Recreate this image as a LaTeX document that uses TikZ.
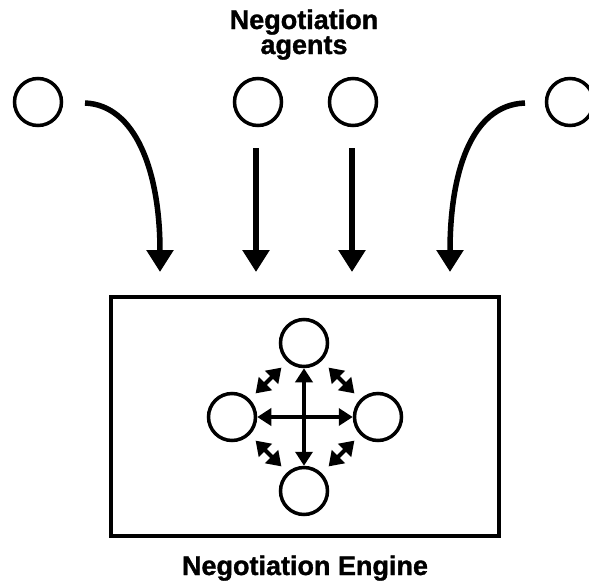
\documentclass[tikz,border=0pt]{standalone}
\usepackage{fontspec}
\setmainfont{Liberation Sans}
\newfontfamily\heavyfont[FakeBold=1.2]{Liberation Sans Bold}
\usetikzlibrary{arrows.meta}
\begin{document}
\begin{tikzpicture}[x=1pt,y=-1pt,
  agent/.style={circle,draw,line width=3.5pt,minimum size=47pt,inner sep=0pt},
  feed/.style={line width=5.5pt,-{Triangle[width=26pt,length=22pt]}},
  link/.style={line width=4pt,{Triangle[width=17pt,length=14pt]}-{Triangle[width=17pt,length=14pt]}},
  side/.style={line width=4pt,{Triangle[width=18pt,length=14pt]}-{Triangle[width=18pt,length=14pt]},shorten <=-2pt,shorten >=-2pt},
  label/.style={font=\heavyfont\fontsize{27}{27}\selectfont,align=center,inner sep=0pt}]
\useasboundingbox (0,0) rectangle (589,584);
\clip (0,0) rectangle (589,584);

% titles
\node[label,anchor=base] (tA) at (304,29) {Negotiation};
\node[label,anchor=base] (tB) at (304,54) {agents};
\node[label,anchor=base] (tE) at (305,575) {Negotiation Engine};

% negotiation agents
\node[agent] (a1) at (38,102) {};
\node[agent] (a2) at (258,102) {};
\node[agent] (a3) at (353,102) {};
\node[agent] (a4) at (570,102) {};

% engine
\node[draw,line width=4pt,minimum width=388pt,minimum height=239pt,inner sep=0pt] (eng) at (305,416.5) {};

% arrows into the engine
\coordinate (s1) at (85,103);   \coordinate (e1) at (160,272);
\coordinate (s2) at (256,148);  \coordinate (e2) at (256,272);
\coordinate (s3) at (352,148);  \coordinate (e3) at (352,272);
\coordinate (s4) at (525,103);  \coordinate (e4) at (450,272);
\draw[feed] (s1) .. controls (135,105) and (160,170) .. (e1);
\draw[feed] (s2) -- (e2);
\draw[feed] (s3) -- (e3);
\draw[feed] (s4) .. controls (470,105) and (450,175) .. (e4);

% agents inside the engine
\node[agent] (bT) at (304,343) {};
\node[agent] (bL) at (232,417) {};
\node[agent] (bR) at (378,417) {};
\node[agent] (bB) at (304,491) {};

\draw[link] (bT) -- (bB);
\draw[link] (bL) -- (bR);

% short diagonal exchanges
\coordinate (d1a) at (257,392); \coordinate (d1b) at (280,369);
\coordinate (d2a) at (330,369); \coordinate (d2b) at (353,392);
\coordinate (d3a) at (257,442); \coordinate (d3b) at (280,465);
\coordinate (d4a) at (330,465); \coordinate (d4b) at (353,442);
\draw[side] (d1a) -- (d1b);
\draw[side] (d2a) -- (d2b);
\draw[side] (d3a) -- (d3b);
\draw[side] (d4a) -- (d4b);
\end{tikzpicture}
\end{document}
